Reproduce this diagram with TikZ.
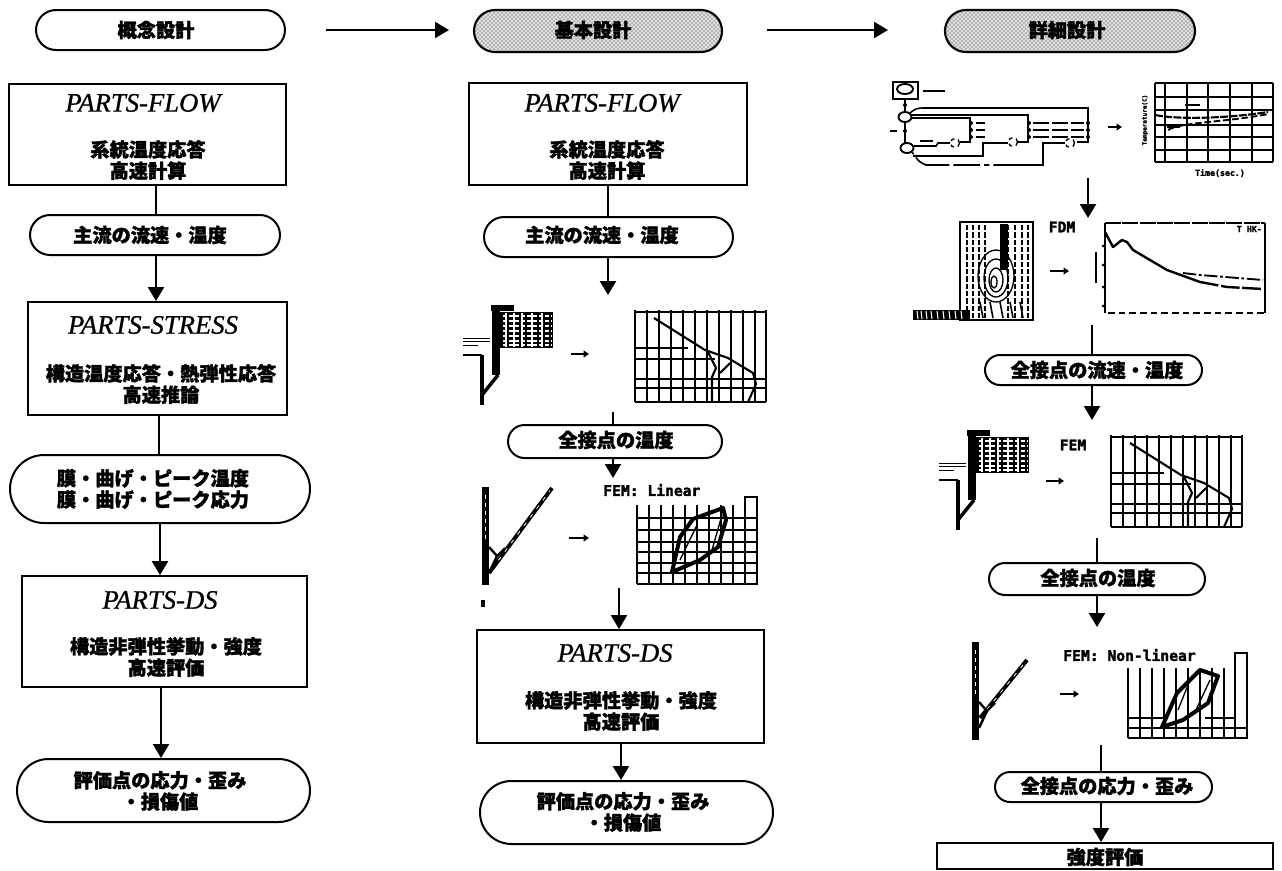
\documentclass[tikz,border=0pt]{standalone}
\usepackage{fontspec}
\setmainfont{Liberation Serif}
\newfontfamily\cjk[BoldFeatures={FakeBold=1.6}]{Noto Sans CJK JP}
\newfontfamily\monob[FakeBold=2]{DejaVu Sans Mono Bold}
\newfontfamily\titlef[FakeBold=0.8]{Liberation Serif Italic}
\usetikzlibrary{shapes.misc,arrows.meta,patterns,calc}
\tikzset{
  x=0.75pt,y=-0.75pt,
  pillbox/.style={draw=black,line width=1.5pt,rounded rectangle,inner sep=0pt,fill=white},
  shaded/.style={draw=black,line width=1.6pt,rounded rectangle,inner sep=0pt,preaction={fill=black!12},pattern=crosshatch dots,pattern color=black!85},
  flowbox/.style={draw=black,line width=1.4pt,inner sep=0pt,fill=white},
  cjklabel/.style={inner sep=0pt,align=center,font=\cjk\bfseries\fontsize{14.4}{16}\selectfont},
  titlelabel/.style={inner sep=0pt,font=\titlef\fontsize{20}{22}\selectfont},
  arrowline/.style={line width=1.7pt,-{Triangle[length=10.5pt,width=12pt]}},
  plainline/.style={line width=1.7pt},
  miniarrow/.style={line width=1.8pt,-{Triangle[length=4pt,width=5pt]}},
  grid/.style={line width=1.2pt},
  curveline/.style={line width=1.6pt,line join=round},
  blob/.style={line width=1.6pt},
  monotext/.style={font=\monob\fontsize{11}{12}\selectfont,inner sep=0pt},
  tinylabel/.style={font=\monob\fontsize{4.5}{5}\selectfont,inner sep=0pt},
  smalllabel/.style={font=\monob\fontsize{6.2}{7}\selectfont,inner sep=0pt},
}
\newcommand\rr[6][pillbox]{\node[#1,minimum width={(#4-#2)*0.75pt},minimum height={(#5-#3)*0.75pt}] (#6) at ({(#2+#4)/2},{(#3+#5)/2})}
% model with mesh
\newcommand\modelA{%
  \fill (492,305) rectangle (500,375);
  \fill (491,305) rectangle (514,311);
  \fill (498,312) rectangle (553,348);
  \foreach \yy in {316,321,326,331,336,341,345}{
    \draw[white,line width=1.2pt,dash pattern=on 3pt off 1.5pt] (503,\yy) -- (552,\yy);}
  \foreach \xx in {506,514,522,532,542}{
    \draw[white,line width=.8pt] (\xx,313) -- (\xx,347);}
  \draw[line width=.7pt] (463,338) -- (490,338) (463,341) -- (490,341) (463,345) -- (478,345);
  \draw[line width=1.4pt] (463,355) -- (482,355);
  \draw[line width=2.6pt] (482,355) -- (482,405);
  \draw[line width=2.6pt] (498,375) -- (482,395);
}
% graph with curve
\newcommand\graphA{%
  \foreach \xx in {635,647,659,671,683,695,707,719,731,743,755,766}{
    \draw[grid] (\xx,310) -- (\xx,402);}
  \draw[grid] (635,312) -- (766,312);
  \draw[grid] (635,348) -- (688,348);
  \draw[grid] (635,359) -- (715,359);
  \draw[grid] (635,379) -- (766,379);
  \draw[grid] (635,388) -- (766,388);
  \draw[line width=1.8pt] (635,402) -- (766,402);
  \draw[curveline] (654,318) -- (705,350) -- (728,358) -- (753,373) -- (756,384) -- (748,402);
  \draw[curveline] (708,352) -- (716,368) -- (712,377) -- (712,402);
  \draw[curveline] (720,373) -- (730,363);
}
% column with branch: #1 branch foot, #2 branch tip
\newcommand\vmodel[2]{%
  \fill (482,487) rectangle (489,585);
  \draw[white,line width=.7pt,dashed] (485.5,495) -- (485.5,540);
  \draw[line width=3pt] (#1) -- (#2);
  \draw[white,line width=.6pt,dash pattern=on 3pt off 5pt] ($(#1)!0.15!(#2)$) -- ($(#1)!0.97!(#2)$);
  \draw[line width=1.8pt] (489,547) -- (497,556) -- (489,573);
  \draw[line width=1.6pt] (497,556) -- (505,548);
}
\begin{document}
\begin{tikzpicture}
\useasboundingbox (0,0) rectangle (1282,871);

% ---- headings
\rr{36}{10}{285}{50}{h1} {};
\rr[shaded]{474}{10}{722}{52}{h2} {};
\rr[shaded]{945}{10}{1195}{52}{h3} {};
\node[cjklabel] (th1) at (156,30) {概念設計};
\node[cjklabel] (th2) at (593,30) {基本設計};
\node[cjklabel] (th3) at (1067,30) {詳細設計};
\coordinate (t1s) at (326,30); \coordinate (t1e) at (449,30);
\coordinate (t2s) at (767,30); \coordinate (t2e) at (888,30);
\draw[arrowline] (t1s) -- (t1e);
\draw[arrowline] (t2s) -- (t2e);

% ---- left column
\rr[flowbox]{9}{84}{286}{185}{a1} {};
\node[titlelabel] (a1t) at (143,103) {PARTS-FLOW};
\node[cjklabel] (a1b) at (148,160) {系統温度応答\\高速計算};
\rr{30}{215}{280}{255}{a2} {};
\node[cjklabel] (a2b) at (150,235) {主流の流速・温度};
\rr[flowbox]{28}{302}{287}{415}{a3} {};
\node[titlelabel] (a3t) at (153,325) {PARTS-STRESS};
\node[cjklabel] (a3b) at (161,384) {構造温度応答・熱弾性応答\\高速推論};
\rr{10}{455}{310}{523}{a4} {};
\node[cjklabel] (a4b) at (153,489) {膜・曲げ・ピーク温度\\膜・曲げ・ピーク応力};
\rr[flowbox]{22}{576}{307}{687}{a5} {};
\node[titlelabel] (a5t) at (160,600) {PARTS-DS};
\node[cjklabel] (a5b) at (166,657) {構造非弾性挙動・強度\\高速評価};
\rr{17}{759}{310}{822}{a6} {};
\node[cjklabel] (a6b) at (160,791) {評価点の応力・歪み\\・損傷値};
\draw[plainline] (a1.south -| 156,0) -- (a2.north -| 156,0);
\draw[arrowline] (a2.south -| 156,0) -- (a3.north -| 156,0);
\draw[plainline] (a3.south -| 159,0) -- (a4.north -| 159,0);
\draw[arrowline] (a4.south -| 160,0) -- (a5.north -| 160,0);
\draw[arrowline] (a5.south -| 161,0) -- (a6.north -| 161,0);

% ---- middle column
\rr[flowbox]{469}{83}{747}{185}{b1} {};
\node[titlelabel] (b1t) at (602,103) {PARTS-FLOW};
\node[cjklabel] (b1b) at (607,160) {系統温度応答\\高速計算};
\rr{484}{217}{733}{257}{b2} {};
\node[cjklabel] (b2b) at (602,235) {主流の流速・温度};
\rr{508}{425}{722}{458}{b3} {};
\node[cjklabel] (b3b) at (616,440) {全接点の温度};
\rr[flowbox]{477}{630}{764}{743}{b4} {};
\node[titlelabel] (b4t) at (615,653) {PARTS-DS};
\node[cjklabel] (b4b) at (621,711) {構造非弾性挙動・強度\\高速評価};
\rr{480}{781}{773}{844}{b5} {};
\node[cjklabel] (b5b) at (623,812) {評価点の応力・歪み\\・損傷値};
\coordinate (m1) at (608,295);
\coordinate (m2) at (613,412);
\coordinate (m3) at (613,478);
\coordinate (m4) at (619,588);
\draw[plainline] (b1.south -| m1) -- (b2.north -| m1);
\draw[arrowline] (b2.south -| m1) -- (m1);
\draw[plainline] (m2) -- (b3.north -| m2);
\draw[arrowline] (b3.south -| m3) -- (m3);
\draw[arrowline] (m4) -- (b4.north -| m4);
\draw[arrowline] (b4.south -| 621,0) -- (b5.north -| 621,0);

\modelA
\graphA
\coordinate (ma1) at (571,354); \coordinate (ma2) at (589,354);
\draw[miniarrow] (ma1) -- (ma2);

\vmodel{489,573}{552,488}
\draw[line width=3pt] (483,600) -- (483,607);
\coordinate (ma3) at (569,538); \coordinate (ma4) at (589,538);
\draw[miniarrow] (ma3) -- (ma4);
\node[monotext,anchor=west] (fem1) at (603,490) {FEM: Linear};
\foreach \xx in {637,649,661,673,685,697,709,721,733,745,757}{
  \draw[grid] (\xx,505) -- (\xx,584);}
\foreach \yy in {518,530,542,552,563,573}{
  \draw[grid] (637,\yy) -- (757,\yy);}
\draw[line width=1.8pt] (637,584) -- (757,584);
\draw[grid] (745,497) rectangle (757,584);
\draw[line width=3pt,line join=round] (672,572) -- (680,537) -- (693,519) -- (723,508) -- (726,520) -- (718,547) -- (700,560) -- cycle;
\draw[line width=1pt] (680,560) -- (697,525) (722,515) -- (712,550);

% ---- right column
\rr{985}{355}{1202}{385}{c1} {};
\node[cjklabel] (c1b) at (1097,370) {全接点の流速・温度};
\rr{989}{563}{1205}{595}{c2} {};
\node[cjklabel] (c2b) at (1098,578) {全接点の温度};
\rr{995}{772}{1212}{802}{c3} {};
\node[cjklabel] (c3b) at (1107,786) {全接点の応力・歪み};
\rr[flowbox]{937}{843}{1273}{869}{c4} {};
\node[cjklabel] (c4b) at (1105,857) {強度評価};
\coordinate (r1) at (1088,178); \coordinate (r1e) at (1088,218);
\coordinate (r2) at (1092,325);
\coordinate (r3) at (1092,420);
\coordinate (r4) at (1097,538);
\coordinate (r5) at (1097,627);
\coordinate (r6) at (1101,745);
\draw[arrowline] (r1) -- (r1e);
\draw[plainline] (r2) -- (c1.north -| r2);
\draw[arrowline] (c1.south -| r3) -- (r3);
\draw[plainline] (r4) -- (c2.north -| r4);
\draw[arrowline] (c2.south -| r5) -- (r5);
\draw[plainline] (r6) -- (c3.north -| r6);
\draw[arrowline] (c3.south -| r6) -- (c4.north -| r6);

% network diagram
\draw[line width=1.2pt] (893,82) rectangle (918,99);
\draw[line width=1.4pt] (905,89) ellipse (8 and 5);
\draw[blob] (923,91) -- (945,91);
\draw[line width=1.2pt] (905,99) -- (905,112) (905,122) -- (905,143);
\draw[line width=1.4pt] (905,117) ellipse (6.5 and 5);
\draw[line width=1.4pt] (907,148) ellipse (6.5 and 5);
\draw[line width=1.2pt] (910,113) .. controls (916,108) and (918,108) .. (925,108) -- (1088,108) -- (1088,142) -- (1077,142);
\draw[line width=1.2pt] (912,115) -- (1028,115) -- (1028,142) -- (1017,142);
\draw[line width=1.2pt] (912,118) -- (970,118) -- (970,142) -- (960,142);
\draw[line width=1.2pt] (950,143) -- (938,143) -- (936,146) -- (913,146);
\draw[line width=1pt,dashed] (955,143) circle (4.5);
\draw[line width=1pt,dashed] (1013,142) circle (4.5);
\draw[line width=1pt,dashed] (1070,143) circle (4.5);
\draw[line width=1.2pt] (1008,143) -- (983,143) -- (983,156) -- (913,156);
\draw[line width=1.2pt] (1065,143) -- (1043,143) -- (1043,165) -- (1020,165);
\draw[line width=1.2pt,dash pattern=on 20pt off 3pt on 4pt off 3pt] (1020,165) -- (930,165) .. controls (920,165) and (918,160) .. (912,152);
\foreach \yy in {123,130,137}{
  \fill (971,\yy) circle (2);
  \fill (1029,\yy) circle (2);
  \fill (1088,\yy) circle (2);
  \draw[line width=1.2pt] (976,\yy) -- (985,\yy) (1033,\yy) -- (1049,\yy) (1052,\yy) -- (1068,\yy) (1071,\yy) -- (1084,\yy);}
\draw[blob] (890,131) -- (897,131);
\foreach \yy in {105,131}{\fill (905,\yy) circle (2);}
\draw[blob] (920,141) -- (933,141) (922,156) -- (932,156) (925,165) -- (945,165);
\coordinate (na1) at (1108,127); \coordinate (na2) at (1122,127);
\draw[miniarrow] (na1) -- (na2);

% temperature time graph
\foreach \xx in {1155,1165,1187,1208,1230,1252,1273}{
  \draw[line width=1.5pt] (\xx,83) -- (\xx,162);}
\foreach \yy in {83,97,110,125,137,150,162}{
  \draw[line width=1.5pt] (1155,\yy) -- (1273,\yy);}
\draw[line width=1.6pt,dash pattern=on 6pt off 1pt] (1155,115) .. controls (1180,120) and (1230,118) .. (1268,112);
\draw[line width=1.4pt,dash pattern=on 5pt off 2pt] (1168,130) .. controls (1180,122) and (1230,122) .. (1268,114);
\draw[blob] (1185,105) -- (1200,105) (1167,127) -- (1180,127);
\node[tinylabel,rotate=90] (tlabel) at (1145,120) {Temperature(C)};
\node[smalllabel] (xlabel) at (1220,173) {Time(sec.)};

% FDM contour
\node[monotext] (fdm) at (1062,227) {FDM};
\draw[line width=1.6pt] (960,222) rectangle (1033,320);
\foreach \xx in {967,973,979,985,1008,1015,1022,1028}{
  \draw[line width=1pt,dash pattern=on 4pt off 1.5pt] (\xx,225) -- (\xx,318);}
\fill (1000,224) rectangle (1008,270);
\draw[line width=1pt] (996,276) ellipse (18 and 26);
\draw[line width=1pt] (996,278) ellipse (12 and 19);
\draw[line width=1pt] (996,280) ellipse (7 and 12);
\draw[line width=1pt] (994,282) ellipse (3 and 6);
\foreach \xx in {980,990,1000,1010,1020}{
  \draw[line width=1.2pt] (\xx,302) -- (\xx+3,318);}
\fill (913,310) rectangle (970,320);
\foreach \xx in {917,921,926,931,937,943,949,955,961}{
  \draw[white,line width=.8pt] (\xx,311) -- (\xx+1,319);}
\coordinate (fa1) at (1050,271); \coordinate (fa2) at (1069,271);
\draw[miniarrow] (fa1) -- (fa2);
\draw[line width=1.4pt,dash pattern=on 12pt off 1pt] (1105,223) -- (1265,223);
\draw[line width=1.4pt] (1105,223) -- (1105,313);
\draw[line width=1.4pt] (1265,223) -- (1265,313);
\draw[line width=1.6pt,dash pattern=on 5pt off 3pt] (1108,313) -- (1268,313);
\draw[blob] (1096,252) -- (1096,283);
\fill (1103,246) circle (1.5) (1103,265) circle (1.5) (1103,287) circle (1.5) (1103,306) circle (1.5);
\draw[line width=1.8pt,line join=round] (1105,232) -- (1113,247) -- (1122,240) -- (1127,242) -- (1133,250) -- (1167,270) -- (1200,282);
\draw[line width=1.4pt,dash pattern=on 10pt off 2pt on 2pt off 2pt] (1183,273) -- (1200,275) -- (1263,280);
\draw[line width=1.8pt,dash pattern=on 14pt off 2pt] (1200,282) -- (1227,287) -- (1263,289);
\node[smalllabel,anchor=east] (ttag) at (1262,229) {T HK-};

% repeated FEM model and graph
\begin{scope}[shift={(476,125)}]
  \modelA
  \graphA
\end{scope}
\node[monotext] (fem2) at (1073,445) {FEM};
\coordinate (ra1) at (1046,481); \coordinate (ra2) at (1064,481);
\draw[miniarrow] (ra1) -- (ra2);

% non-linear model
\begin{scope}[shift={(490,155)}]
  \vmodel{490,563}{537,505}
\end{scope}
\node[monotext,anchor=west] (fem3) at (1063,655) {FEM: Non-linear};
\coordinate (ra3) at (1060,694); \coordinate (ra4) at (1079,694);
\draw[miniarrow] (ra3) -- (ra4);
\foreach \xx in {1128,1140,1152,1164,1176,1188,1200,1212,1224,1235,1247}{
  \draw[grid] (\xx,668) -- (\xx,738);}
\draw[grid] (1235,653) rectangle (1247,738);
\draw[grid] (1128,718) -- (1165,718) (1205,718) -- (1235,718);
\draw[grid] (1128,728) -- (1247,728);
\draw[line width=1.8pt] (1128,738) -- (1247,738);
\draw[line width=3pt,line join=round] (1162,727) -- (1177,693) -- (1200,670) -- (1218,676) -- (1208,703) -- (1183,720) -- cycle;
\draw[line width=1pt] (1178,710) -- (1190,680) (1210,680) -- (1195,712);
\end{tikzpicture}
\end{document}
